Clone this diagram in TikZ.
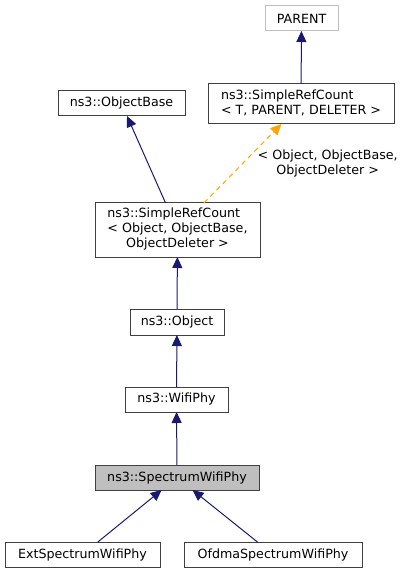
\documentclass[tikz,border=0pt]{standalone}
\usepackage{fontspec}
\setmainfont{DejaVu Sans}
\usetikzlibrary{arrows.meta}
\newlength\px \setlength\px{0.75pt}
\definecolor{edgeblue}{HTML}{191970}
\definecolor{tmplorange}{HTML}{FFA500}
\definecolor{boxgray}{HTML}{404040}
\definecolor{fillgray}{HTML}{BFBFBF}

\begin{document}
\begin{tikzpicture}[x=0.75pt, y=-0.75pt,
    %Option for nice arrows
    >={Triangle[length=8.25pt,width=7.5pt]}, %
    inner sep=0pt, outer sep=0pt,%
    font=\fontsize{9.5}{11.25}\selectfont,
    cls/.style={draw=boxgray, line width=0.75pt, fill=white, minimum height=25\px, minimum width=#1},
    inherit/.style={edgeblue, line width=0.75pt, ->},
    tmpl/.style={tmplorange, line width=0.75pt, dash pattern=on 3.75pt off 3pt, ->},
]
    \useasboundingbox (0,0) rectangle (407,573);

    % Classes
    \node[cls=73\px, draw=fillgray] (parent) at (301.5,18.5) {PARENT};
    \node[cls=186\px, minimum height=40\px] (srct) at (301,104)
        {\begin{tabular}{@{}l@{}}ns3::SimpleRefCount\\< T, PARENT, DELETER >\end{tabular}};
    \node[cls=127\px] (objbase) at (121.5,103.5) {ns3::ObjectBase};
    \node[cls=165\px, minimum height=54\px] (srco) at (177.5,230)
        {\begin{tabular}{@{}l@{}}ns3::SimpleRefCount\\< Object, ObjectBase,\\\multicolumn{1}{@{}c@{}}{ObjectDeleter >}\end{tabular}};
    \node[cls=94\px, minimum height=26\px] (object) at (177,322) {ns3::Object};
    \node[cls=103\px] (wifiphy) at (176.5,399.5) {ns3::WifiPhy};
    \node[cls=164\px, fill=fillgray] (spectrum) at (177,477.5) {ns3::SpectrumWifiPhy};
    \node[cls=155\px] (ext) at (82.5,554.5) {ExtSpectrumWifiPhy};
    \node[cls=178\px] (ofdma) at (273,554.5) {OfdmaSpectrumWifiPhy};

    % Inheritance
    \draw[inherit] (srct) -- (parent);
    \draw[inherit] (srco) -- (objbase);
    \draw[tmpl] (srco) -- (srct)
        node[pos=0.5, anchor=west, xshift=15\px, text=black, align=center] {< Object, ObjectBase,\\ObjectDeleter >};
    \draw[inherit] (object) -- (srco);
    \draw[inherit] (wifiphy) -- (object);
    \draw[inherit] (spectrum) -- (wifiphy);
    \draw[inherit] (ext) -- (spectrum);
    \draw[inherit] (ofdma) -- (spectrum);

\end{tikzpicture}
\end{document}
